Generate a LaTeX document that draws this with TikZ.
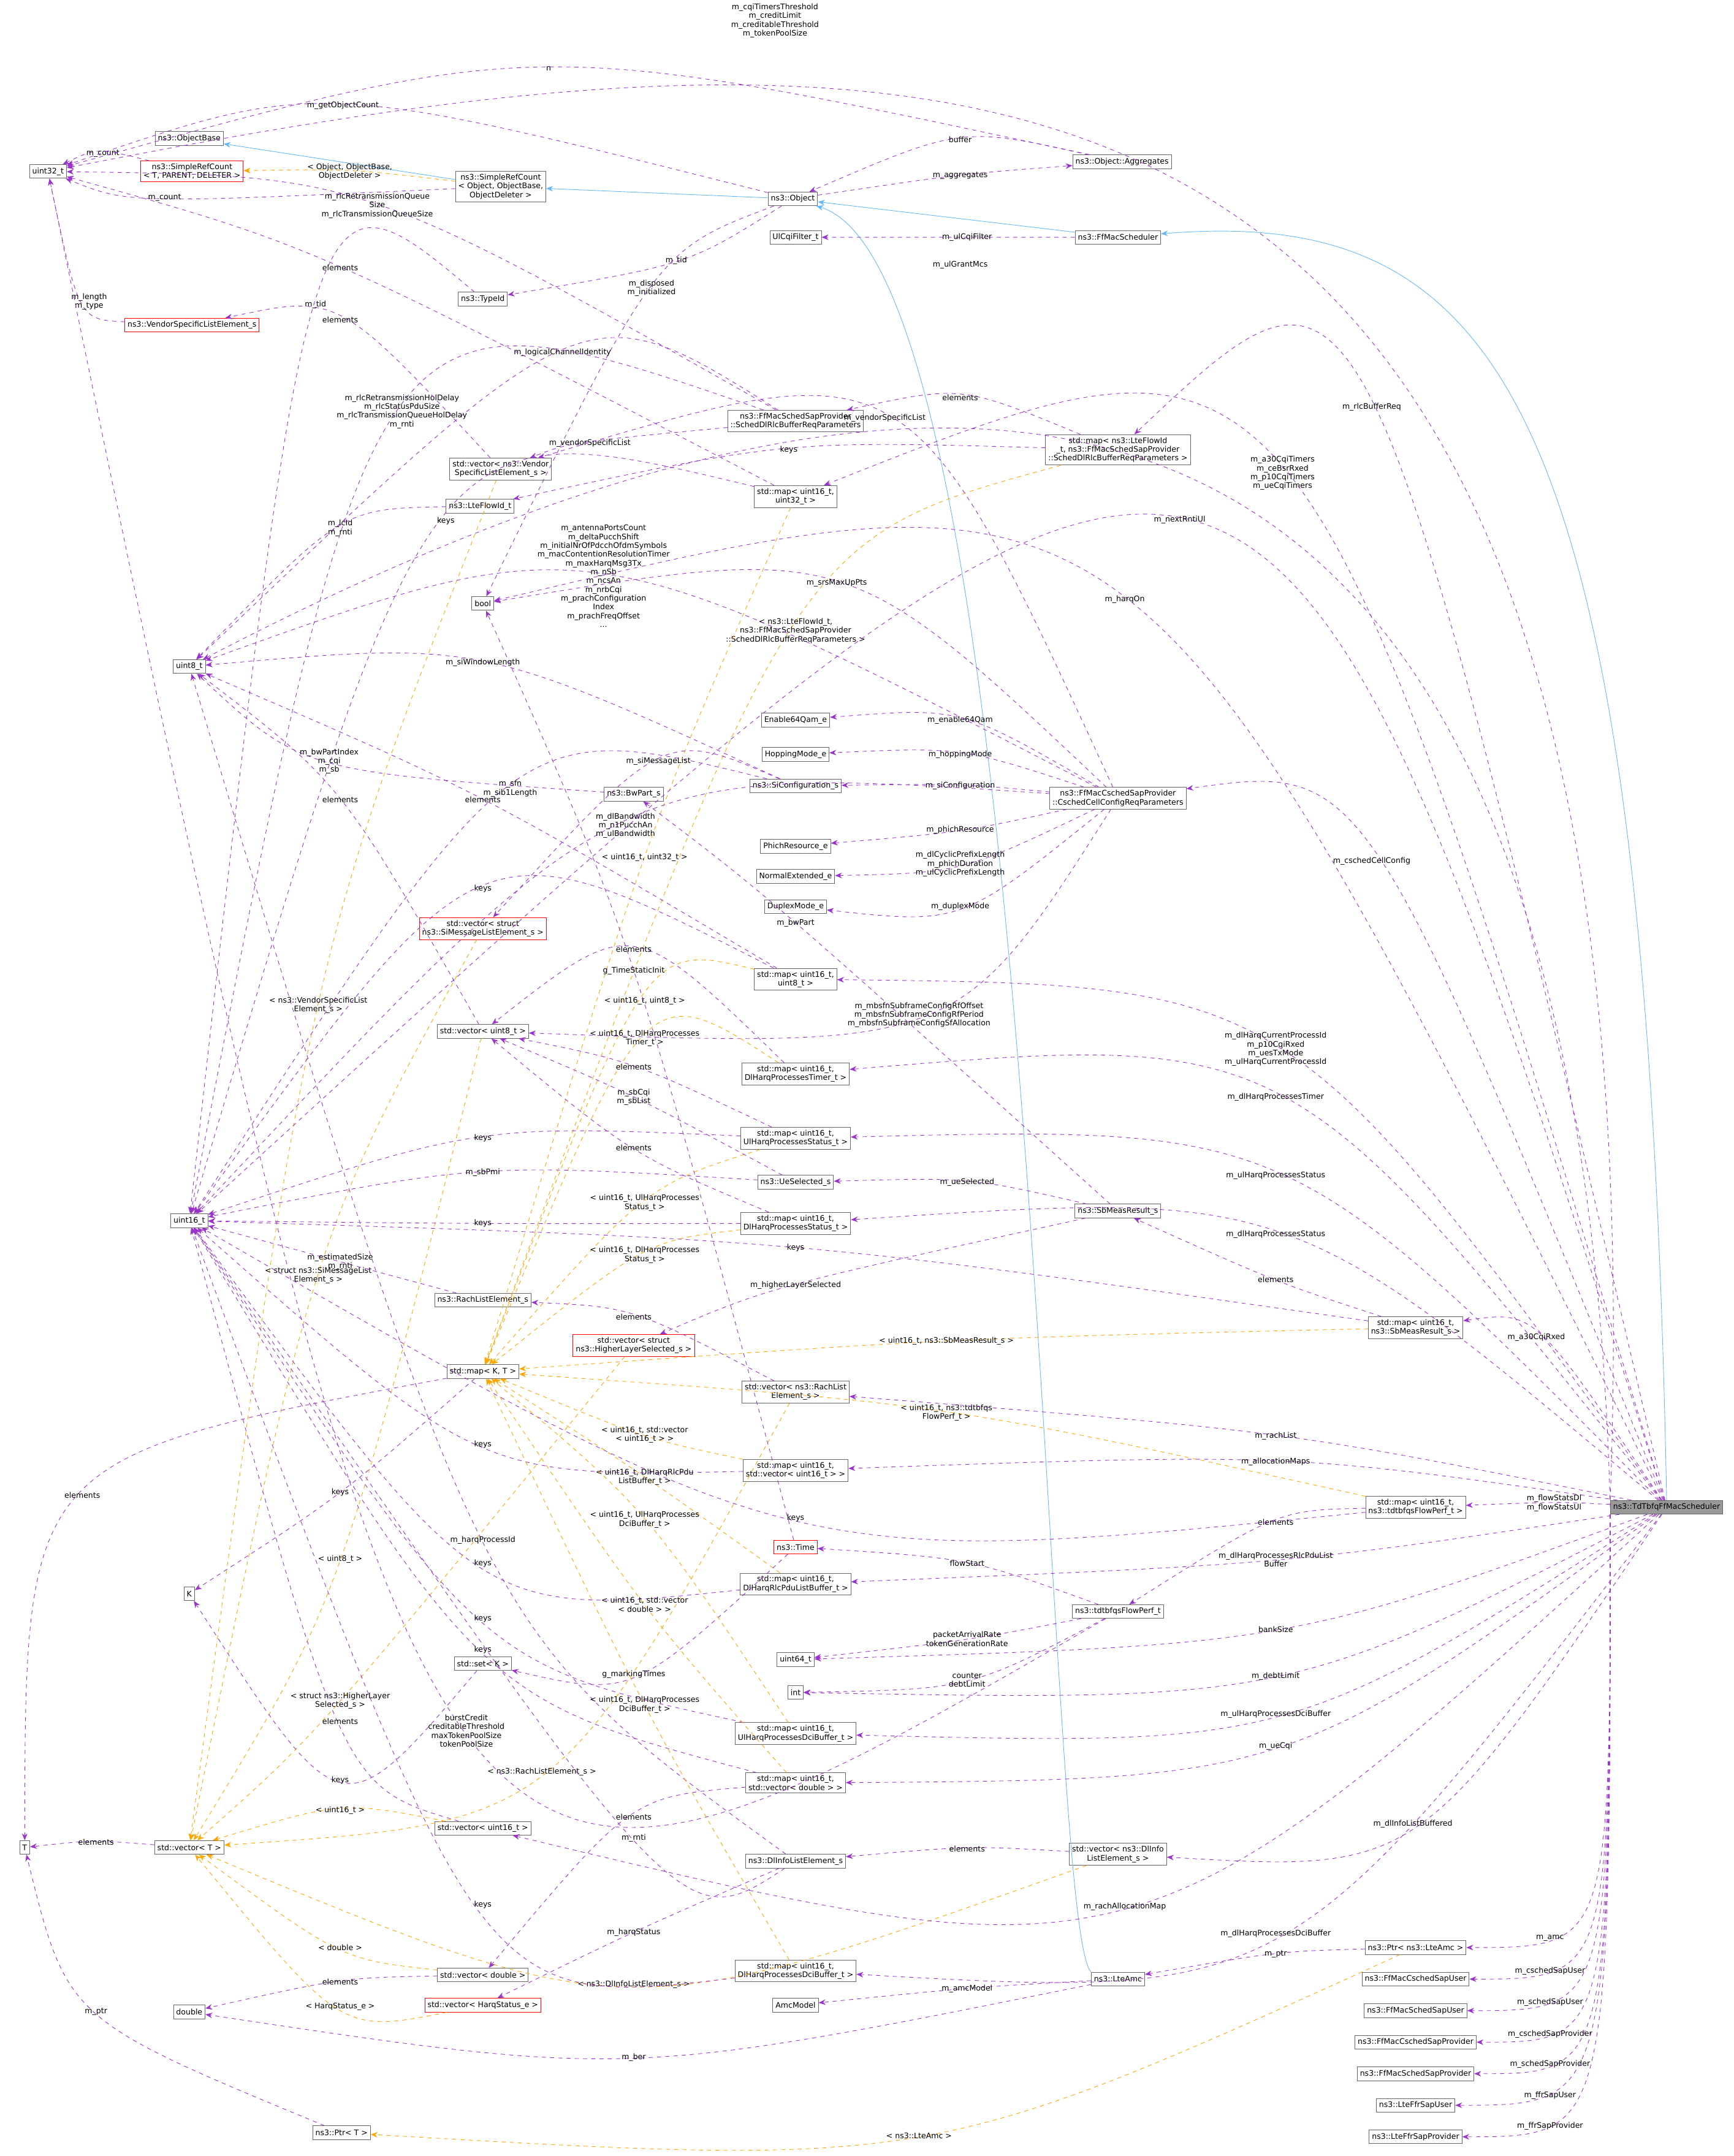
\documentclass[tikz,border=0pt]{standalone}
\usepackage{fontspec}
\setmainfont{DejaVu Sans}
\usetikzlibrary{arrows.meta,calc}
\definecolor{pur}{HTML}{9A32CD}
\definecolor{ora}{HTML}{FFA500}
\definecolor{blu}{HTML}{63B8FF}
\tikzset{
 box/.style={draw=black!60,fill=white,font=\fontsize{5.6}{6.4}\selectfont,inner sep=2pt,align=center,minimum height=10pt},
 redbox/.style={box,draw=red},
 graybox/.style={box,fill=black!40},
 lbl/.style={font=\fontsize{5.6}{6.4}\selectfont,align=center,inner sep=0pt},
 pedge/.style={draw=pur,dashed,-{Stealth[length=5pt,width=4pt]}},
 oedge/.style={draw=ora,dashed,-{Stealth[length=5pt,width=4pt]}},
 bedge/.style={draw=blu,-{Stealth[length=5pt,width=4pt]}},
}
\newcommand\anyedg[5]{\coordinate (LL) at (#4);
 \draw[#1] (#2) .. controls ($1.3333*(LL)-0.16667*(#2)-0.16667*(#3)$) .. (#3); \node[lbl] at (LL) {#5};}
\newcommand\pedg[4]{\anyedg{pedge}{#1}{#2}{#3}{#4}}
\newcommand\oedg[4]{\anyedg{oedge}{#1}{#2}{#3}{#4}}
\newcommand\cedg[3]{\draw[pedge] (td.south west) .. controls (td.south west|-#1) .. (#1.east); \node[lbl] at (#2) {#3};}
\begin{document}
\begin{tikzpicture}[x=1pt,y=-1pt]
\useasboundingbox (0,0) rectangle (1264,1572);
% nodes
\node[box] (u32) at (35,125) {uint32\_t};
\node[box] (ob) at (138,101) {ns3::ObjectBase};
\node[redbox] (srt) at (140,125) {ns3::SimpleRefCount\\< T, PARENT, DELETER >};
\node[box] (sro) at (365,136) {ns3::SimpleRefCount\\< Object, ObjectBase,\\ObjectDeleter >};
\node[box] (obj) at (578,145) {ns3::Object};
\node[box] (agg) at (818,118) {ns3::Object::Aggregates};
\node[box] (ucf) at (580,173) {UlCqiFilter\_t};
\node[box] (ffs) at (815,173) {ns3::FfMacScheduler};
\node[box] (tid) at (352,218) {ns3::TypeId};
\node[redbox] (vse) at (140,237) {ns3::VendorSpecificListElement\_s};
\node[box] (sdr) at (580,307) {ns3::FfMacSchedSapProvider\\::SchedDlRlcBufferReqParameters};
\node[box] (mrb) at (815,328) {std::map< ns3::LteFlowId\\\_t, ns3::FfMacSchedSapProvider\\::SchedDlRlcBufferReqParameters >};
\node[box] (vvs) at (365,342) {std::vector< ns3::Vendor\\SpecificListElement\_s >};
\node[box] (lfi) at (350,369) {ns3::LteFlowId\_t};
\node[box] (m1632) at (580,362) {std::map< uint16\_t,\\uint32\_t >};
\node[box] (bool) at (352,440) {bool};
\node[box] (u8) at (138,486) {uint8\_t};
\node[box] (e64) at (580,525) {Enable64Qam\_e};
\node[box] (hop) at (580,550) {HoppingMode\_e};
\node[box] (sic) at (580,573) {ns3::SiConfiguration\_s};
\node[box] (bwp) at (462,579) {ns3::BwPart\_s};
\node[box] (ccr) at (815,582) {ns3::FfMacCschedSapProvider\\::CschedCellConfigReqParameters};
\node[box] (phr) at (580,617) {PhichResource\_e};
\node[box] (nex) at (580,639) {NormalExtended\_e};
\node[box] (dup) at (580,661) {DuplexMode\_e};
\node[redbox] (vsm) at (352,677) {std::vector< struct\\ns3::SiMessageListElement\_s >};
\node[box] (m168) at (580,714) {std::map< uint16\_t,\\uint8\_t >};
\node[box] (vu8) at (352,752) {std::vector< uint8\_t >};
\node[box] (mdt) at (580,783) {std::map< uint16\_t,\\DlHarqProcessesTimer\_t >};
\node[box] (mus) at (580,830) {std::map< uint16\_t,\\UlHarqProcessesStatus\_t >};
\node[box] (ues) at (580,862) {ns3::UeSelected\_s};
\node[box] (mds) at (580,892) {std::map< uint16\_t,\\DlHarqProcessesStatus\_t >};
\node[box] (sbm) at (815,883) {ns3::SbMeasResult\_s};
\node[box] (u16) at (138,890) {uint16\_t};
\node[box] (rle) at (352,948) {ns3::RachListElement\_s};
\node[redbox] (vhl) at (462,981) {std::vector< struct\\ns3::HigherLayerSelected\_s >};
\node[box] (msb) at (1032,968) {std::map< uint16\_t,\\ns3::SbMeasResult\_s >};
\node[box] (mkt) at (352,1000) {std::map< K, T >};
\node[box] (vrl) at (580,1015) {std::vector< ns3::RachList\\Element\_s >};
\node[box] (mvu) at (580,1072) {std::map< uint16\_t,\\std::vector< uint16\_t > >};
\node[box] (mfp) at (1032,1099) {std::map< uint16\_t,\\ns3::tdtbfqsFlowPerf\_t >};
\node[graybox] (td) at (1215,1099) {ns3::TdTbfqFfMacScheduler};
\node[redbox] (time) at (580,1128) {ns3::Time};
\node[box] (mrl) at (580,1155) {std::map< uint16\_t,\\DlHarqRlcPduListBuffer\_t >};
\node[box] (K) at (138,1162) {K};
\node[box] (tfp) at (815,1175) {ns3::tdtbfqsFlowPerf\_t};
\node[box] (u64) at (580,1210) {uint64\_t};
\node[box] (setk) at (352,1213) {std::set< K >};
\node[box] (int) at (580,1234) {int};
\node[box] (mud) at (580,1264) {std::map< uint16\_t,\\UlHarqProcessesDciBuffer\_t >};
\node[box] (mvd) at (580,1300) {std::map< uint16\_t,\\std::vector< double > >};
\node[box] (T) at (18,1347) {T};
\node[box] (vt) at (138,1347) {std::vector< T >};
\node[box] (vu16) at (352,1333) {std::vector< uint16\_t >};
\node[box] (dle) at (580,1357) {ns3::DlInfoListElement\_s};
\node[box] (vdl) at (815,1352) {std::vector< ns3::DlInfo\\ListElement\_s >};
\node[box] (vd) at (352,1440) {std::vector< double >};
\node[redbox] (vhs) at (352,1462) {std::vector< HarqStatus\_e >};
\node[box] (mdd) at (580,1437) {std::map< uint16\_t,\\DlHarqProcessesDciBuffer\_t >};
\node[box] (amcm) at (580,1462) {AmcModel};
\node[box] (amc) at (815,1443) {ns3::LteAmc};
\node[box] (pamc) at (1032,1420) {ns3::Ptr< ns3::LteAmc >};
\node[box] (dbl) at (138,1467) {double};
\node[box] (csu) at (1032,1443) {ns3::FfMacCschedSapUser};
\node[box] (ssu) at (1032,1466) {ns3::FfMacSchedSapUser};
\node[box] (csp) at (1032,1489) {ns3::FfMacCschedSapProvider};
\node[box] (ssp) at (1032,1512) {ns3::FfMacSchedSapProvider};
\node[box] (fsu) at (1032,1535) {ns3::LteFfrSapUser};
\node[box] (fsp) at (1032,1558) {ns3::LteFfrSapProvider};
\node[box] (pt) at (249,1555) {ns3::Ptr< T >};
% inheritance
\draw[bedge] (sro) -- (ob);
\draw[bedge] (obj) -- (sro);
\draw[bedge] (ffs) -- (obj);
\draw[bedge] (amc.north west) .. controls (760,1400) and (760,200) .. (obj);
\draw[bedge] (td.north) .. controls (1200,300) and (1100,150) .. (ffs);
% simple refcount etc
\pedg{srt}{u32}{75,112}{m\_count}
\oedg{sro}{srt}{255,125}{< Object, ObjectBase,\\ObjectDeleter >}
\pedg{sro}{u32}{120,144}{m\_count}
\pedg{obj}{u32}{250,77}{m\_getObjectCount}
\pedg{obj}{agg}{700,128}{m\_aggregates}
\pedg{agg}{obj}{700,102}{buffer}
\pedg{agg}{u32}{400,50}{n}
\pedg{obj}{tid}{493,190}{m\_tid}
\pedg{obj}{bool}{475,210}{m\_disposed\\m\_initialized}
\pedg{ffs}{ucf}{705,173}{m\_ulCqiFilter}
\pedg{vse}{u32}{65,220}{m\_length\\m\_type}
\pedg{tid}{u16}{230,222}{m\_tid}
\pedg{sdr}{u32}{275,150}{m\_rlcRetransmissionQueue\\Size\\m\_rlcTransmissionQueueSize}
\pedg{sdr}{u8}{410,257}{m\_logicalChannelIdentity}
\pedg{sdr}{u16}{293,300}{m\_rlcRetransmissionHolDelay\\m\_rlcStatusPduSize\\m\_rlcTransmissionQueueHolDelay\\m\_rnti}
\pedg{sdr}{vvs}{430,323}{m\_vendorSpecificList}
\pedg{mrb}{sdr}{700,290}{elements}
\pedg{mrb}{lfi}{575,328}{keys}
\oedg{mrb}{mkt}{580,460}{< ns3::LteFlowId\_t,\\ns3::FfMacSchedSapProvider\\::SchedDlRlcBufferReqParameters >}
\pedg{vvs}{vse}{248,233}{elements}
\oedg{vvs}{vt}{232,733}{< ns3::VendorSpecificList\\Element\_s >}
\pedg{lfi}{u8}{248,385}{m\_lcId\\m\_rnti}
\pedg{m1632}{u32}{248,195}{elements}
\pedg{m1632}{u16}{325,380}{keys}
\oedg{m1632}{mkt}{470,625}{< uint16\_t, uint32\_t >}
% cell config
\pedg{ccr}{e64}{700,525}{m\_enable64Qam}
\pedg{ccr}{hop}{700,550}{m\_hoppingMode}
\pedg{ccr}{sic}{700,573}{m\_siConfiguration}
\pedg{ccr}{phr}{700,605}{m\_phichResource}
\pedg{ccr}{nex}{700,630}{m\_dlCyclicPrefixLength\\m\_phichDuration\\m\_ulCyclicPrefixLength}
\pedg{ccr}{dup}{700,661}{m\_duplexMode}
\pedg{ccr}{u8}{440,420}{m\_antennaPortsCount\\m\_deltaPucchShift\\m\_initialNrOfPdcchOfdmSymbols\\m\_macContentionResolutionTimer\\m\_maxHarqMsg3Tx\\m\_nSb\\m\_ncsAn\\m\_nrbCqi\\m\_prachConfiguration\\Index\\m\_prachFreqOffset\\...}
\pedg{ccr}{u16}{456,602}{m\_dlBandwidth\\m\_n1PucchAn\\m\_ulBandwidth}
\pedg{ccr}{bool}{610,425}{m\_srsMaxUpPts}
\pedg{ccr}{vu8}{670,740}{m\_mbsfnSubframeConfigRfOffset\\m\_mbsfnSubframeConfigRfPeriod\\m\_mbsfnSubframeConfigSfAllocation}
\pedg{ccr}{vvs}{645,305}{m\_vendorSpecificList}
\pedg{sic}{u8}{352,483}{m\_siWindowLength}
\pedg{sic}{u16}{372,575}{m\_sfn\\m\_sib1Length}
\pedg{sic}{vsm}{480,555}{m\_siMessageList}
\pedg{bwp}{u8}{240,555}{m\_bwPartIndex\\m\_cqi\\m\_sb}
\oedg{vsm}{vt}{232,930}{< struct ns3::SiMessageList\\Element\_s >}
\pedg{m168}{u8}{352,583}{elements}
\pedg{m168}{u16}{352,648}{keys}
\oedg{m168}{mkt}{470,730}{< uint16\_t, uint8\_t >}
\pedg{vu8}{u8}{248,583}{elements}
\oedg{vu8}{vt}{248,1137}{< uint8\_t >}
\pedg{mdt}{vu8}{462,692}{elements}
\oedg{mdt}{mkt}{470,757}{< uint16\_t, DlHarqProcesses\\Timer\_t >}
\pedg{mus}{vu8}{462,778}{elements}
\pedg{mus}{u16}{352,830}{keys}
\oedg{mus}{mkt}{470,877}{< uint16\_t, UlHarqProcesses\\Status\_t >}
\pedg{ues}{u16}{352,855}{m\_sbPmi}
\pedg{ues}{vu8}{462,800}{m\_sbCqi\\m\_sbList}
\pedg{mds}{u16}{352,892}{keys}
\pedg{mds}{vu8}{462,837}{elements}
\oedg{mds}{mkt}{470,915}{< uint16\_t, DlHarqProcesses\\Status\_t >}
\pedg{sbm}{ues}{705,862}{m\_ueSelected}
\pedg{sbm}{vhl}{580,937}{m\_higherLayerSelected}
\pedg{sbm}{bwp}{580,673}{m\_bwPart}
\pedg{rle}{u16}{248,920}{m\_estimatedSize\\m\_rnti}
\oedg{vhl}{vt}{248,1240}{< struct ns3::HigherLayer\\Selected\_s >}
\pedg{msb}{sbm}{930,933}{elements}
\pedg{msb}{u16}{580,910}{keys}
\oedg{msb}{mkt}{690,978}{< uint16\_t, ns3::SbMeasResult\_s >}
\pedg{mkt}{K}{248,1088}{keys}
\pedg{mkt}{T}{60,1090}{elements}
\pedg{vrl}{rle}{462,960}{elements}
\oedg{vrl}{vt}{395,1292}{< ns3::RachListElement\_s >}
\pedg{mvu}{u16}{352,1053}{keys}
\oedg{mvu}{mkt}{470,1046}{< uint16\_t, std::vector\\< uint16\_t > >}
\pedg{mfp}{tfp}{930,1110}{elements}
\pedg{mfp}{u16}{580,1107}{keys}
\oedg{mfp}{mkt}{690,1030}{< uint16\_t, ns3::tdtbfqs\\FlowPerf\_t >}
\pedg{mrl}{u16}{352,1140}{keys}
\oedg{mrl}{mkt}{470,1077}{< uint16\_t, DlHarqRlcPdu\\ListBuffer\_t >}
\pedg{time}{bool}{462,708}{g\_TimeStaticInit}
\pedg{time}{setk}{462,1221}{g\_markingTimes}
\pedg{tfp}{time}{705,1140}{flowStart}
\pedg{tfp}{u64}{705,1195}{packetArrivalRate\\tokenGenerationRate}
\pedg{tfp}{int}{705,1225}{counter\\debtLimit}
\pedg{tfp}{u32}{340,1262}{burstCredit\\creditableThreshold\\maxTokenPoolSize\\tokenPoolSize}
\pedg{setk}{K}{248,1298}{keys}
\pedg{mud}{u16}{352,1180}{keys}
\oedg{mud}{mkt}{470,1108}{< uint16\_t, UlHarqProcesses\\DciBuffer\_t >}
\pedg{mvd}{u16}{352,1203}{keys}
\pedg{mvd}{vd}{462,1325}{elements}
\oedg{mvd}{mkt}{470,1170}{< uint16\_t, std::vector\\< double > >}
\pedg{vu16}{u16}{248,1255}{elements}
\oedg{vu16}{vt}{248,1320}{< uint16\_t >}
\pedg{dle}{u16}{462,1340}{m\_rnti}
\pedg{dle}{u8}{352,1123}{m\_harqProcessId}
\pedg{dle}{vhs}{462,1409}{m\_harqStatus}
\pedg{vdl}{dle}{705,1348}{elements}
\oedg{vdl}{vt}{462,1447}{< ns3::DlInfoListElement\_s >}
\pedg{vd}{dbl}{248,1445}{elements}
\oedg{vd}{vt}{248,1420}{< double >}
\oedg{vhs}{vt}{248,1463}{< HarqStatus\_e >}
\pedg{mdd}{u16}{352,1389}{keys}
\oedg{mdd}{mkt}{470,1243}{< uint16\_t, DlHarqProcesses\\DciBuffer\_t >}
\pedg{amc}{amcm}{705,1450}{m\_amcModel}
\pedg{amc}{dbl}{462,1500}{m\_ber}
\pedg{pamc}{amc}{930,1425}{m\_ptr}
\oedg{pamc}{pt}{670,1557}{< ns3::LteAmc >}
\pedg{pt}{T}{70,1467}{m\_ptr}
\pedg{vt}{T}{70,1343}{elements}
% from TdTbfq
\draw[pedge] (td.north west) .. controls (1215,-30) and (700,-5) .. (u32); \node[lbl] at (565,15) {m\_cqiTimersThreshold\\m\_creditLimit\\m\_creditableThreshold\\m\_tokenPoolSize};
\draw[pedge] (td.west) .. controls (1150,200) and (700,193) .. (u8); \node[lbl] at (700,193) {m\_ulGrantMcs};
\pedg{td}{mrb}{1000,297}{m\_rlcBufferReq}
\pedg{td}{m1632}{935,345}{m\_a30CqiTimers\\m\_ceBsrRxed\\m\_p10CqiTimers\\m\_ueCqiTimers}
\pedg{td}{u16}{860,379}{m\_nextRntiUl}
\pedg{td}{bool}{820,437}{m\_harqOn}
\pedg{td}{ccr}{1000,628}{m\_cschedCellConfig}
\pedg{td}{m168}{930,765}{m\_dlHarqCurrentProcessId\\m\_p10CqiRxed\\m\_uesTxMode\\m\_ulHarqCurrentProcessId}
\pedg{td}{mdt}{930,800}{m\_dlHarqProcessesTimer}
\pedg{td}{mus}{930,857}{m\_ulHarqProcessesStatus}
\pedg{td}{mds}{930,900}{m\_dlHarqProcessesStatus}
\pedg{td}{msb}{1120,975}{m\_a30CqiRxed}
\pedg{td}{vrl}{930,1047}{m\_rachList}
\pedg{td}{mvu}{930,1066}{m\_allocationMaps}
\pedg{td}{mfp}{1133,1096}{m\_flowStatsDl\\m\_flowStatsUl}
\pedg{td}{mrl}{930,1137}{m\_dlHarqProcessesRlcPduList\\Buffer}
\pedg{td}{u64}{930,1188}{bankSize}
\pedg{td}{int}{930,1222}{m\_debtLimit}
\pedg{td}{mud}{930,1250}{m\_ulHarqProcessesDciBuffer}
\pedg{td}{mvd}{930,1273}{m\_ueCqi}
\pedg{td}{vdl}{1030,1330}{m\_dlInfoListBuffered}
\pedg{td}{vu16}{820,1390}{m\_rachAllocationMap}
\pedg{td}{mdd}{930,1410}{m\_dlHarqProcessesDciBuffer}
\cedg{pamc}{1130,1413}{m\_amc}
\cedg{csu}{1130,1437}{m\_cschedSapUser}
\cedg{ssu}{1130,1460}{m\_schedSapUser}
\cedg{csp}{1130,1483}{m\_cschedSapProvider}
\cedg{ssp}{1130,1505}{m\_schedSapProvider}
\cedg{fsu}{1130,1528}{m\_ffrSapUser}
\cedg{fsp}{1130,1550}{m\_ffrSapProvider}
\end{tikzpicture}
\end{document}
